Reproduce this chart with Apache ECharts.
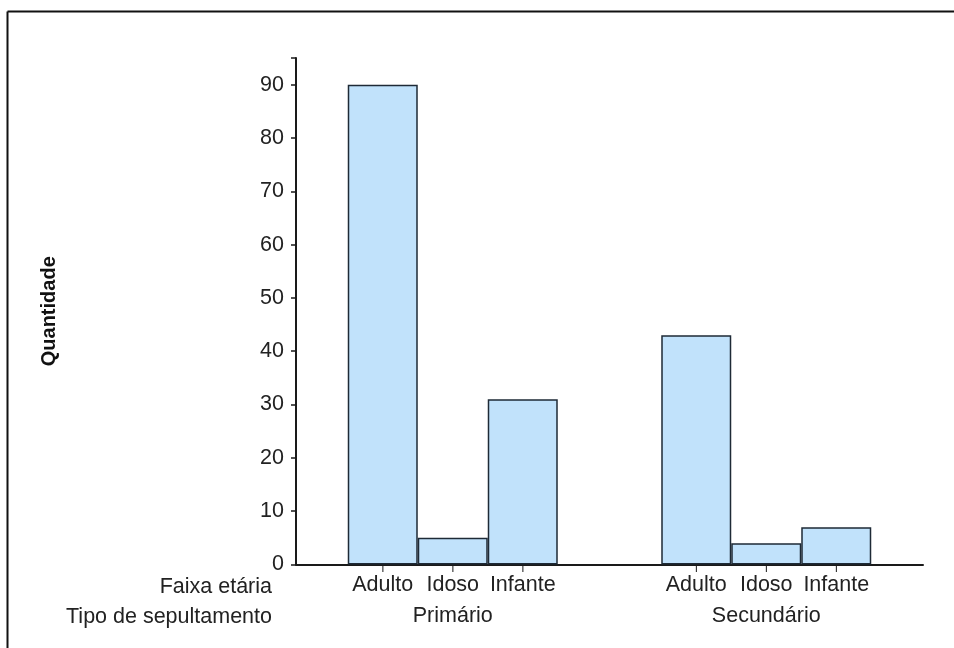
<!DOCTYPE html>
<html>
<head>
<meta charset="utf-8">
<script src="https://cdn.jsdelivr.net/npm/echarts@6/dist/echarts.min.js"></script>
<style>
html,body{margin:0;padding:0;background:#fff;}
#chart{width:954px;height:648px;}
</style>
</head>
<body>
<div id="chart"></div>
<script>
// Data
var burialTypes = ['Primário', 'Secundário'];
var ageGroups = ['Adulto', 'Idoso', 'Infante'];
var adulto = [90, 43];
var idoso = [5, 4];
var infante = [31, 7];
var yTicks = [0, 10, 20, 30, 40, 50, 60, 70, 80, 90];
var rowLabels = ['Faixa etária', 'Tipo de sepultamento'];

var FONT = '"Liberation Sans", Arial, sans-serif';
var TXT = '#222';
var seriesValues = [adulto, idoso, infante];

var chart = echarts.init(document.getElementById('chart'), null, {renderer: 'canvas'});

var series = ageGroups.map(function (name, i) {
  return {
    name: name,
    type: 'bar',
    data: seriesValues[i],
    barWidth: 70,
    barGap: '0%',
    itemStyle: {color: '#c1e2fb', borderColor: '#1e2a36', borderWidth: 1.5},
    label: {
      show: true,
      position: 'bottom',
      distance: 0,
      formatter: '{t||}\n{n|' + name + '}',
      rich: {
        t: {fontFamily: FONT, fontSize: 8, lineHeight: 7, height: 7, color: '#1a1a1a', fontWeight: 'bold', align: 'center', verticalAlign: 'top'},
        n: {fontFamily: FONT, fontSize: 21.5, lineHeight: 28, color: TXT, align: 'center'}
      }
    },
    emphasis: {disabled: true},
    animation: false
  };
});

var option = {
  animation: false,
  grid: {left: 296, right: 31, top: 58, bottom: 83.5},
  xAxis: {
    type: 'category',
    data: burialTypes,
    axisLine: {lineStyle: {color: '#1a1a1a', width: 2}},
    axisTick: {show: false},
    axisLabel: {fontFamily: FONT, fontSize: 21.5, color: TXT, margin: 40, lineHeight: 24}
  },
  yAxis: {
    type: 'value',
    min: 0,
    max: 95,
    interval: 10,
    name: 'Quantidade',
    nameLocation: 'middle',
    nameGap: 237,
    nameRotate: 90,
    nameTextStyle: {fontFamily: FONT, fontSize: 20, fontWeight: 'bold', color: '#111'},
    axisLine: {show: true, lineStyle: {color: '#1a1a1a', width: 2}},
    axisTick: {show: true, length: 5, lineStyle: {color: '#1a1a1a', width: 1.5}},
    axisLabel: {
      fontFamily: FONT, fontSize: 21.5, color: TXT, margin: 12,
      formatter: function (v) { return yTicks.indexOf(v) >= 0 ? String(v) : ''; }
    },
    splitLine: {show: false}
  },
  series: series,
  graphic: [
    {type: 'line', shape: {x1: 7.5, y1: 11.5, x2: 954, y2: 11.5}, style: {stroke: '#111', lineWidth: 2}, silent: true},
    {type: 'line', shape: {x1: 7.5, y1: 11.5, x2: 7.5, y2: 648}, style: {stroke: '#111', lineWidth: 2}, silent: true},
    {type: 'text', x: 272, y: 587, style: {text: rowLabels[0], fill: TXT, font: '21.5px ' + FONT, textAlign: 'right', textVerticalAlign: 'middle'}, silent: true},
    {type: 'text', x: 272, y: 617, style: {text: rowLabels[1], fill: TXT, font: '21.5px ' + FONT, textAlign: 'right', textVerticalAlign: 'middle'}, silent: true}
  ]
};
chart.setOption(option);
</script>
</body>
</html>
